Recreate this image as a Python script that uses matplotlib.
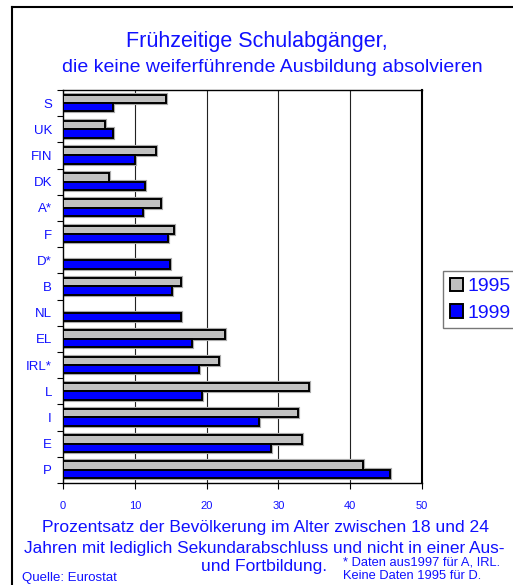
import numpy as np
from matplotlib import pyplot as plt
from matplotlib.patches import Patch
from matplotlib.lines import Line2D

countries = ['S', 'UK', 'FIN', 'DK', 'A*', 'F', 'D*', 'B', 'NL', 'EL', 'IRL*', 'L', 'I', 'E', 'P']
v1995 = [14.3, 5.8, 12.9, 6.4, 13.7, 15.5, np.nan, 16.4, np.nan, 22.5, 21.7, 34.3, 32.8, 33.3, 41.8]
v1999 = [7.0, 7.0, 10.0, 11.4, 11.1, 14.6, 14.9, 15.2, 16.4, 17.9, 19.0, 19.3, 27.3, 29.0, 45.6]
xticks = [0, 10, 20, 30, 40, 50]

BLUE = '#1010ff'
GRAY = '#c0c0c0'
plt.rcParams['font.family'] = ['Liberation Sans', 'DejaVu Sans']

fig = plt.figure(figsize=(5.13, 5.85), dpi=100)
ax = fig.add_axes([0.1228, 0.1744, 0.6998, 0.6718])

y = np.arange(len(countries))
h = 0.32
# soft grey shadow behind the bars, like the original
ax.barh(y - h / 2, v1995, height=h, color='none', edgecolor='#aaaaaa', linewidth=3.0, zorder=2)
ax.barh(y + h / 2, v1999, height=h, color='none', edgecolor='#aaaaaa', linewidth=3.0, zorder=2)
ax.barh(y - h / 2, v1995, height=h, color=GRAY, edgecolor='black', linewidth=1.4, zorder=3)
ax.barh(y + h / 2, v1999, height=h, color='#0000ff', edgecolor='black', linewidth=1.4, zorder=3)

ax.set_xlim(0, 50)
ax.set_ylim(len(countries) - 0.5, -0.5)
ax.set_xticks(xticks)
ax.set_xticklabels([str(t) for t in xticks], color=BLUE, fontsize=8)
ax.tick_params(axis='x', direction='out', length=4, pad=9)

ax.set_yticks(np.arange(len(countries) + 1) - 0.5)
ax.set_yticklabels([])
ax.set_yticks(y, minor=True)
ax.set_yticklabels(countries, minor=True, color=BLUE, fontsize=9.5)
ax.tick_params(axis='y', which='major', direction='out', length=4)
ax.tick_params(axis='y', which='minor', length=0, pad=8)

for t in xticks[1:-1]:
    ax.axvline(t, color='#222222', linewidth=0.8, zorder=1)
for s in ax.spines.values():
    s.set_linewidth(1.0)
ax.spines['right'].set_linewidth(1.5)

fig.text(0.5, 0.929, 'Frühzeitige Schulabgänger,', ha='center', va='center', color=BLUE, fontsize=15.5)
fig.text(0.531, 0.884, 'die keine weiferführende Ausbildung absolvieren', ha='center', va='center',
         color=BLUE, fontsize=14)

fig.text(0.518, 0.098, 'Prozentsatz der Bevölkerung im Alter zwischen 18 und 24', ha='center', va='center',
         color=BLUE, fontsize=12.6)
fig.text(0.516, 0.063, 'Jahren mit lediglich Sekundarabschluss und nicht in einer Aus-', ha='center',
         va='center', color=BLUE, fontsize=12.4)
fig.text(0.515, 0.032, 'und Fortbildung.', ha='center', va='center', color=BLUE, fontsize=12.6)
fig.text(0.668, 0.039, '* Daten aus1997 für A, IRL.', ha='left', va='center', color=BLUE, fontsize=9.3)
fig.text(0.668, 0.015, 'Keine Daten 1995 für D.', ha='left', va='center', color=BLUE, fontsize=9.3)
fig.text(0.043, 0.012, 'Quelle: Eurostat', ha='left', va='center', color=BLUE, fontsize=9.5)

handles = [Patch(facecolor=GRAY, edgecolor='black', linewidth=1.4),
           Patch(facecolor='#0000ff', edgecolor='black', linewidth=1.4)]
leg = fig.legend(handles, ['1995', '1999'], loc='upper left', bbox_to_anchor=(0.863, 0.537),
                 fontsize=14, frameon=True, fancybox=False, handlelength=0.7, handleheight=0.7,
                 handletextpad=0.2, borderpad=0.35, labelspacing=0.45, borderaxespad=0)
leg.get_frame().set_edgecolor('#555555')
for t in leg.get_texts():
    t.set_color(BLUE)

# outer frame: left and top edges only
fig.add_artist(Line2D([0.024, 0.024], [0, 0.988], color='black', linewidth=1.5, transform=fig.transFigure))
fig.add_artist(Line2D([0.024, 1.0], [0.988, 0.988], color='black', linewidth=1.5, transform=fig.transFigure))

fig.savefig('out.png', dpi=100)
